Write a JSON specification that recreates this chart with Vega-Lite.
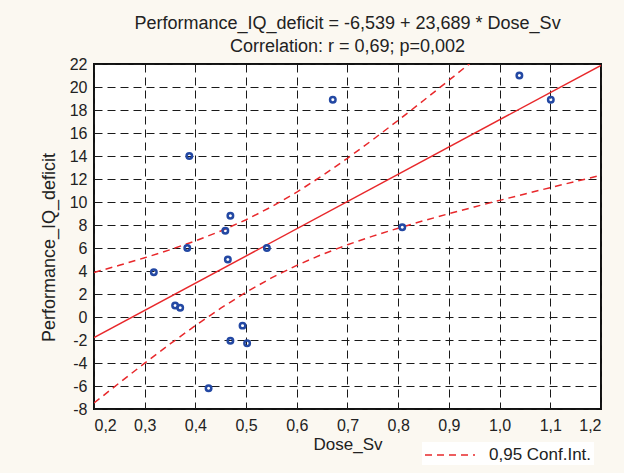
{
  "$schema": "https://vega.github.io/schema/vega-lite/v6.json",
  "autosize": {"type": "none"},
  "width": 507,
  "height": 345,
  "padding": {"left": 94, "top": 64, "right": 23, "bottom": 64},
  "background": "#fbf8f1",
  "config": {
    "font": "Liberation Sans Narrow, Liberation Sans, sans-serif",
    "view": {"stroke": "#111111", "strokeWidth": 2, "fill": "#ffffff"},
    "axis": {
      "domain": false,
      "ticks": false,
      "tickSize": 0,
      "grid": true,
      "gridColor": "#1a1a1a",
      "gridDash": [8, 5],
      "gridWidth": 1,
      "gridOpacity": 1,
      "labelFontSize": 16,
      "labelColor": "#222222",
      "titleFontSize": 17,
      "titleFontWeight": "normal",
      "titleColor": "#222222"
    }
  },
  "title": {
    "text": ["Performance_IQ_deficit = -6,539 + 23,689 * Dose_Sv", "Correlation: r = 0,69; p=0,002"],
    "anchor": "middle",
    "frame": "group",
    "fontSize": 18,
    "fontWeight": "normal",
    "lineHeight": 23,
    "color": "#222222",
    "offset": 0
  },
  "datasets": {
    "points": [
      {"dose": 0.388, "deficit": 14.0},
      {"dose": 0.671, "deficit": 18.9},
      {"dose": 0.469, "deficit": 8.8},
      {"dose": 0.459, "deficit": 7.5},
      {"dose": 0.384, "deficit": 6.0},
      {"dose": 0.541, "deficit": 6.0},
      {"dose": 0.464, "deficit": 5.0},
      {"dose": 0.318, "deficit": 3.9},
      {"dose": 0.360, "deficit": 1.0},
      {"dose": 0.370, "deficit": 0.8},
      {"dose": 0.493, "deficit": -0.75},
      {"dose": 0.469, "deficit": -2.06},
      {"dose": 0.502, "deficit": -2.29},
      {"dose": 0.426, "deficit": -6.2},
      {"dose": 1.039, "deficit": 21.0},
      {"dose": 1.101, "deficit": 18.9},
      {"dose": 0.808, "deficit": 7.8}
    ],
    "fit": [
      {"dose": 0.2, "deficit": -1.8012},
      {"dose": 1.2, "deficit": 21.8878}
    ],
    "ci": [
      {"dose": 0.20, "deficit": 3.877, "bound": "upper", "series": "0,95 Conf.Int."},
      {"dose": 0.25, "deficit": 4.495, "bound": "upper", "series": "0,95 Conf.Int."},
      {"dose": 0.30, "deficit": 5.149, "bound": "upper", "series": "0,95 Conf.Int."},
      {"dose": 0.35, "deficit": 5.849, "bound": "upper", "series": "0,95 Conf.Int."},
      {"dose": 0.40, "deficit": 6.617, "bound": "upper", "series": "0,95 Conf.Int."},
      {"dose": 0.45, "deficit": 7.476, "bound": "upper", "series": "0,95 Conf.Int."},
      {"dose": 0.50, "deficit": 8.456, "bound": "upper", "series": "0,95 Conf.Int."},
      {"dose": 0.55, "deficit": 9.579, "bound": "upper", "series": "0,95 Conf.Int."},
      {"dose": 0.60, "deficit": 10.855, "bound": "upper", "series": "0,95 Conf.Int."},
      {"dose": 0.65, "deficit": 12.273, "bound": "upper", "series": "0,95 Conf.Int."},
      {"dose": 0.70, "deficit": 13.803, "bound": "upper", "series": "0,95 Conf.Int."},
      {"dose": 0.75, "deficit": 15.421, "bound": "upper", "series": "0,95 Conf.Int."},
      {"dose": 0.80, "deficit": 17.100, "bound": "upper", "series": "0,95 Conf.Int."},
      {"dose": 0.85, "deficit": 18.824, "bound": "upper", "series": "0,95 Conf.Int."},
      {"dose": 0.90, "deficit": 20.580, "bound": "upper", "series": "0,95 Conf.Int."},
      {"dose": 0.95, "deficit": 22.360, "bound": "upper", "series": "0,95 Conf.Int."},
      {"dose": 0.20, "deficit": -7.479, "bound": "lower", "series": "0,95 Conf.Int."},
      {"dose": 0.25, "deficit": -5.729, "bound": "lower", "series": "0,95 Conf.Int."},
      {"dose": 0.30, "deficit": -4.013, "bound": "lower", "series": "0,95 Conf.Int."},
      {"dose": 0.35, "deficit": -2.345, "bound": "lower", "series": "0,95 Conf.Int."},
      {"dose": 0.40, "deficit": -0.743, "bound": "lower", "series": "0,95 Conf.Int."},
      {"dose": 0.45, "deficit": 0.766, "bound": "lower", "series": "0,95 Conf.Int."},
      {"dose": 0.50, "deficit": 2.156, "bound": "lower", "series": "0,95 Conf.Int."},
      {"dose": 0.55, "deficit": 3.401, "bound": "lower", "series": "0,95 Conf.Int."},
      {"dose": 0.60, "deficit": 4.493, "bound": "lower", "series": "0,95 Conf.Int."},
      {"dose": 0.65, "deficit": 5.445, "bound": "lower", "series": "0,95 Conf.Int."},
      {"dose": 0.70, "deficit": 6.283, "bound": "lower", "series": "0,95 Conf.Int."},
      {"dose": 0.75, "deficit": 7.035, "bound": "lower", "series": "0,95 Conf.Int."},
      {"dose": 0.80, "deficit": 7.724, "bound": "lower", "series": "0,95 Conf.Int."},
      {"dose": 0.85, "deficit": 8.370, "bound": "lower", "series": "0,95 Conf.Int."},
      {"dose": 0.90, "deficit": 8.982, "bound": "lower", "series": "0,95 Conf.Int."},
      {"dose": 0.95, "deficit": 9.572, "bound": "lower", "series": "0,95 Conf.Int."},
      {"dose": 1.00, "deficit": 10.143, "bound": "lower", "series": "0,95 Conf.Int."},
      {"dose": 1.05, "deficit": 10.701, "bound": "lower", "series": "0,95 Conf.Int."},
      {"dose": 1.10, "deficit": 11.249, "bound": "lower", "series": "0,95 Conf.Int."},
      {"dose": 1.15, "deficit": 11.789, "bound": "lower", "series": "0,95 Conf.Int."},
      {"dose": 1.20, "deficit": 12.322, "bound": "lower", "series": "0,95 Conf.Int."}
    ]
  },
  "encoding": {
    "x": {
      "field": "dose",
      "type": "quantitative",
      "scale": {"domain": [0.2, 1.2], "nice": false, "zero": false},
      "axis": {
        "title": "Dose_Sv",
        "values": [0.2, 0.3, 0.4, 0.5, 0.6, 0.7, 0.8, 0.9, 1.0, 1.1, 1.2],
        "labelExpr": "replace(format(datum.value, '.1f'), '.', ',')",
        "labelPadding": 8,
        "titlePadding": 3
      }
    },
    "y": {
      "field": "deficit",
      "type": "quantitative",
      "scale": {"domain": [-8, 22], "nice": false, "zero": false},
      "axis": {
        "title": "Performance_IQ_deficit",
        "titleFontSize": 18,
        "titleY": 183,
        "values": [-8, -6, -4, -2, 0, 2, 4, 6, 8, 10, 12, 14, 16, 18, 20, 22],
        "labelExpr": "'' + datum.value",
        "labelPadding": 7,
        "titlePadding": 11
      }
    }
  },
  "layer": [
    {
      "data": {"name": "ci"},
      "mark": {"type": "line", "clip": true, "strokeWidth": 1.5},
      "encoding": {
        "detail": {"field": "bound"},
        "color": {
          "field": "series",
          "type": "nominal",
          "scale": {"range": ["#e8282b"]},
          "legend": {
            "title": null,
            "orient": "none",
            "legendX": 328,
            "legendY": 378,
            "fillColor": "#ffffff",
            "padding": 2,
            "symbolType": "M-1,0H4",
            "symbolSize": 400,
            "symbolStrokeWidth": 1.5,
            "symbolFillColor": "transparent",
            "symbolDash": [7, 5],
            "labelFontSize": 17,
            "labelColor": "#222222",
            "labelOffset": 43,
            "labelLimit": 300
          }
        },
        "strokeDash": {
          "field": "series",
          "type": "nominal",
          "scale": {"range": [[7, 5]]},
          "legend": null
        }
      }
    },
    {
      "data": {"name": "fit"},
      "mark": {"type": "line", "color": "#e8282b", "strokeWidth": 1.5, "clip": true},
      "encoding": {}
    },
    {
      "data": {"name": "points"},
      "mark": {"type": "point", "shape": "circle", "filled": false, "size": 30, "strokeWidth": 2.5, "color": "#2348a3", "opacity": 1},
      "encoding": {}
    }
  ]
}
